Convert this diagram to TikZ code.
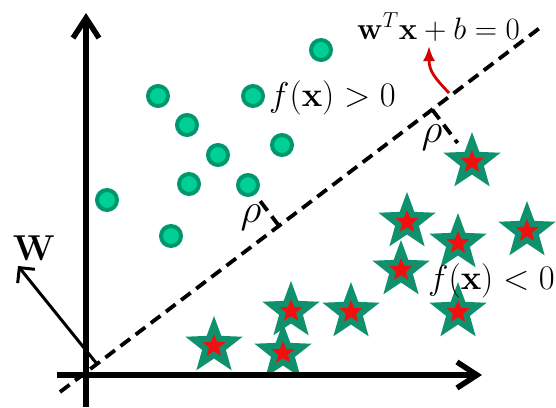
\RequirePackage{fix-cm}
\documentclass[tikz,border=0pt]{standalone}
\usetikzlibrary{arrows.meta,shapes.geometric,calc}
\definecolor{dotfill}{RGB}{0,208,150}
\definecolor{dotline}{RGB}{0,150,110}
\definecolor{stargreen}{RGB}{16,145,110}
\definecolor{starred}{RGB}{240,16,16}
\definecolor{arrred}{RGB}{210,0,0}
\tikzset{
  dot/.style={circle, fill=dotfill, draw=dotline, line width=4pt, minimum size=20pt, inner sep=0pt},
  bigstar/.style={star, star points=5, star point ratio=2.4, fill=stargreen, minimum size=60pt, inner sep=0pt},
  smallstar/.style={star, star points=5, star point ratio=2.3, fill=starred, minimum size=24pt, inner sep=0pt},
  axisline/.style={line width=5.5pt, -{Straight Barb[length=20pt,width=26pt,line width=5.5pt]}},
  warrow/.style={line width=3pt, -{Straight Barb[length=11pt,width=22pt,line width=3pt]}},
  hyper/.style={line width=3.8pt, dash pattern=on 12pt off 7pt},
  perp/.style={line width=3.8pt, dash pattern=on 12pt off 7pt},
  redarrow/.style={line width=2.8pt, draw=arrred, -{Latex[length=15pt,width=12pt]}},
  lab/.style={inner sep=0pt, font=\fontsize{34.5}{40}\selectfont},
}
\begin{document}
\begin{tikzpicture}[x=1pt,y=-1pt]
\clip (0,0) rectangle (556,407);
\useasboundingbox (0,0) rectangle (556,407);
% circles
\foreach \n/\x/\y in {c1/321/50,c2/158/96,c3/253/96,c4/187/125,c5/282/145,c6/218/155,c7/189/184,c8/248/185,c9/107/200,c10/171/236}
  {\node[dot] (\n) at (\x,\y) {};}
% stars
\foreach \n/\x/\y in {s1/214/346,s2/283/353,s3/291/311,s4/351/312,s5/401/270,s6/407/222,s7/458/243,s8/458/312,s9/527/231,s10/472/162}
  {\node[bigstar] (\n) at (\x,\y) {}; \node[smallstar] (\n r) at (\n) {};}
% separating line
\coordinate (la) at (60,392);
\coordinate (lb) at (541,27);
\draw[hyper] (la) -- (lb);
% margins
\coordinate (f1) at ($(la)!(s10)!(lb)$);
\coordinate (f2) at ($(la)!(c8)!(lb)$);
\draw[perp] (f1) -- ($(f1)!42pt!(s10)$);
\draw[perp] (f2) -- ($(f2)!38pt!(c8)$);
\node[inner sep=0pt, font=\fontsize{41}{44}\selectfont] (rho1) at (432,138) {$\rho$};
\node[inner sep=0pt, font=\fontsize{41}{44}\selectfont] (rho2) at (251,218) {$\rho$};
% labels
\node[lab, anchor=base west] (fpos) at (269,106) {$f(\mathbf{x})>0$};
\node[lab, anchor=base west] (fneg) at (428,289) {$f(\mathbf{x})<0$};
\node[inner sep=0pt, anchor=base west, font=\fontsize{31}{36}\selectfont] (hyp) at (357,39) {$\mathbf{w}^T\mathbf{x}+b=0$};
\coordinate (rs) at (449,93);
\coordinate (rt) at (429,46);
\draw[redarrow] (rs) .. controls (436,79) and (429,72) .. (rt);
% w vector
\coordinate (wb) at (97,364);
\coordinate (wt) at (18,266);
\draw[warrow] (wb) -- (wt);
\node[inner sep=0pt, font=\fontsize{36}{40}\selectfont] (wlab) at (34,248) {$\mathbf{W}$};
% axes
\coordinate (yb) at (86,407);
\coordinate (yt) at (86,13);
\coordinate (xl) at (57,375);
\coordinate (xr) at (482,375);
\draw[axisline] (yb) -- (yt);
\draw[axisline] (xl) -- (xr);
\end{tikzpicture}
\end{document}
